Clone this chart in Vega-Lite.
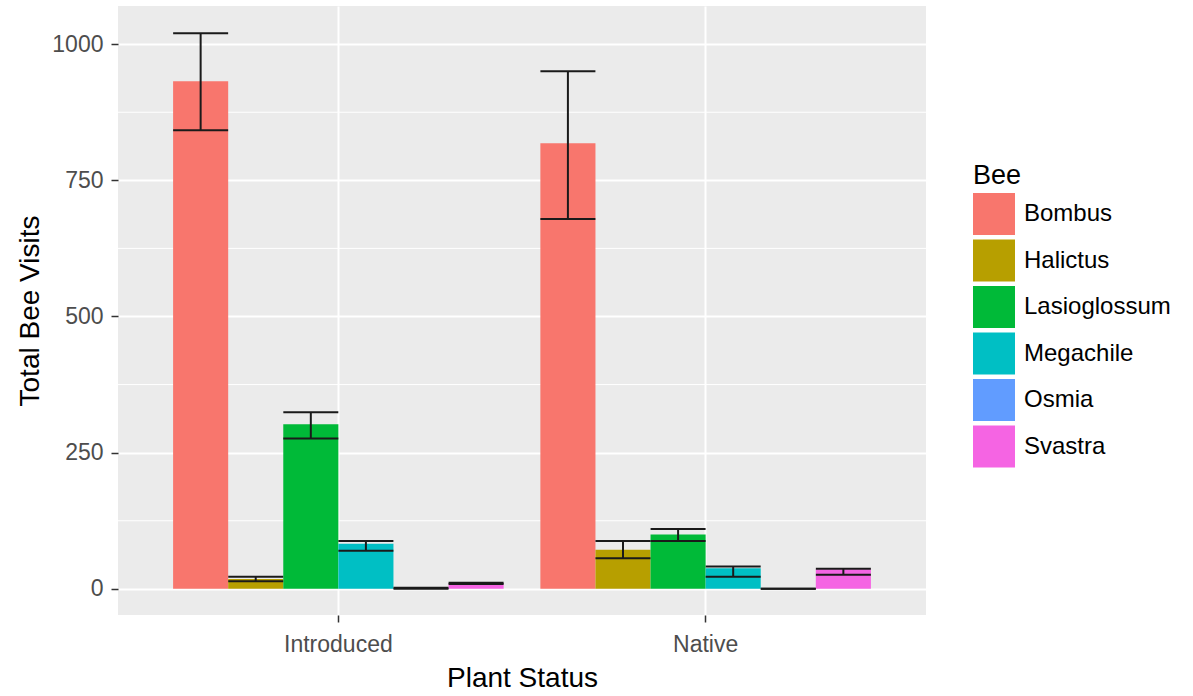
{
  "$schema": "https://vega.github.io/schema/vega-lite/v6.json",
  "width": 808,
  "height": 609,
  "autosize": {"type": "none"},
  "padding": {"left": 118, "top": 6, "right": 267, "bottom": 81},
  "background": "white",
  "config": {
    "view": {"fill": "#EBEBEB", "stroke": null},
    "font": "Liberation Sans"
  },
  "data": {
    "values": [
      {"status": "Introduced", "bee": "Bombus", "visits": 932, "lower": 842, "upper": 1020},
      {"status": "Introduced", "bee": "Halictus", "visits": 18, "lower": 14, "upper": 22},
      {"status": "Introduced", "bee": "Lasioglossum", "visits": 302, "lower": 276, "upper": 324},
      {"status": "Introduced", "bee": "Megachile", "visits": 83, "lower": 70, "upper": 88},
      {"status": "Introduced", "bee": "Osmia", "visits": 1, "lower": 0, "upper": 2},
      {"status": "Introduced", "bee": "Svastra", "visits": 10, "lower": 9, "upper": 11},
      {"status": "Native", "bee": "Bombus", "visits": 818, "lower": 679, "upper": 950},
      {"status": "Native", "bee": "Halictus", "visits": 72, "lower": 56, "upper": 88},
      {"status": "Native", "bee": "Lasioglossum", "visits": 100, "lower": 88, "upper": 110},
      {"status": "Native", "bee": "Megachile", "visits": 38, "lower": 22, "upper": 41},
      {"status": "Native", "bee": "Osmia", "visits": 0, "lower": 0, "upper": 0},
      {"status": "Native", "bee": "Svastra", "visits": 36, "lower": 26, "upper": 37}
    ]
  },
  "layer": [
    {
      "data": {"values": [{"visits": 125}, {"visits": 375}, {"visits": 625}, {"visits": 875}]},
      "mark": {"type": "rule", "color": "white", "strokeWidth": 1},
      "encoding": {
        "y": {"field": "visits", "type": "quantitative", "title": "Total Bee Visits"}
      }
    },
    {
      "mark": {"type": "bar"},
      "encoding": {
        "x": {
          "field": "status", "type": "nominal", "sort": ["Introduced", "Native"],
          "title": "Plant Status",
          "scale": {"paddingInner": 0.1, "paddingOuter": 0.15},
          "axis": {
            "domain": false, "ticks": true, "tickColor": "#333333", "tickSize": 7, "tickWidth": 1.5,
            "labelFontSize": 23, "labelColor": "#4D4D4D", "labelPadding": 11, "labelAngle": 0,
            "titleFontSize": 28, "titleColor": "black", "titleFontWeight": "normal", "titlePadding": 8,
            "grid": true, "gridColor": "white", "gridWidth": 2, "bandPosition": 0.5
          }
        },
        "xOffset": {
          "field": "bee", "type": "nominal",
          "sort": ["Bombus", "Halictus", "Lasioglossum", "Megachile", "Osmia", "Svastra"],
          "scale": {"paddingInner": 0, "paddingOuter": 0}
        },
        "y": {
          "field": "visits", "type": "quantitative", "title": "Total Bee Visits",
          "scale": {"domain": [-48, 1070], "nice": false, "zero": false},
          "axis": {
            "values": [0, 250, 500, 750, 1000], "format": "d", "domain": false,
            "tickColor": "#333333", "tickSize": 7, "tickWidth": 1.5,
            "labelFontSize": 23, "labelColor": "#4D4D4D", "labelPadding": 8,
            "titleFontSize": 28, "titleColor": "black", "titleFontWeight": "normal", "titlePadding": 7,
            "grid": true, "gridColor": "white", "gridWidth": 2
          }
        },
        "color": {
          "field": "bee", "type": "nominal",
          "scale": {
            "domain": ["Bombus", "Halictus", "Lasioglossum", "Megachile", "Osmia", "Svastra"],
            "range": ["#F8766D", "#B79F00", "#00BA38", "#00BFC4", "#619CFF", "#F564E3"]
          },
          "legend": {
            "orient": "none", "legendX": 855, "legendY": 157, "padding": 0,
            "title": "Bee", "titleFontSize": 27, "titleColor": "black", "titleFontWeight": "normal", "titlePadding": 3,
            "labelFontSize": 24, "labelColor": "black", "labelLimit": 300, "labelOffset": 9,
            "symbolType": "square", "symbolSize": 1764, "symbolStrokeWidth": 0, "symbolOpacity": 1,
            "rowPadding": 4.5
          }
        }
      }
    },
    {
      "mark": {"type": "rule", "color": "#1a1a1a", "strokeWidth": 2},
      "encoding": {
        "x": {"field": "status", "type": "nominal", "sort": ["Introduced", "Native"]},
        "xOffset": {"field": "bee", "type": "nominal", "sort": ["Bombus", "Halictus", "Lasioglossum", "Megachile", "Osmia", "Svastra"]},
        "y": {"field": "lower", "type": "quantitative"},
        "y2": {"field": "upper"}
      }
    },
    {
      "mark": {"type": "tick", "orient": "horizontal", "size": 55, "thickness": 2, "color": "#1a1a1a", "opacity": 1},
      "encoding": {
        "x": {"field": "status", "type": "nominal", "sort": ["Introduced", "Native"]},
        "xOffset": {"field": "bee", "type": "nominal", "sort": ["Bombus", "Halictus", "Lasioglossum", "Megachile", "Osmia", "Svastra"]},
        "y": {"field": "lower", "type": "quantitative"}
      }
    },
    {
      "mark": {"type": "tick", "orient": "horizontal", "size": 55, "thickness": 2, "color": "#1a1a1a", "opacity": 1},
      "encoding": {
        "x": {"field": "status", "type": "nominal", "sort": ["Introduced", "Native"]},
        "xOffset": {"field": "bee", "type": "nominal", "sort": ["Bombus", "Halictus", "Lasioglossum", "Megachile", "Osmia", "Svastra"]},
        "y": {"field": "upper", "type": "quantitative"}
      }
    }
  ]
}
